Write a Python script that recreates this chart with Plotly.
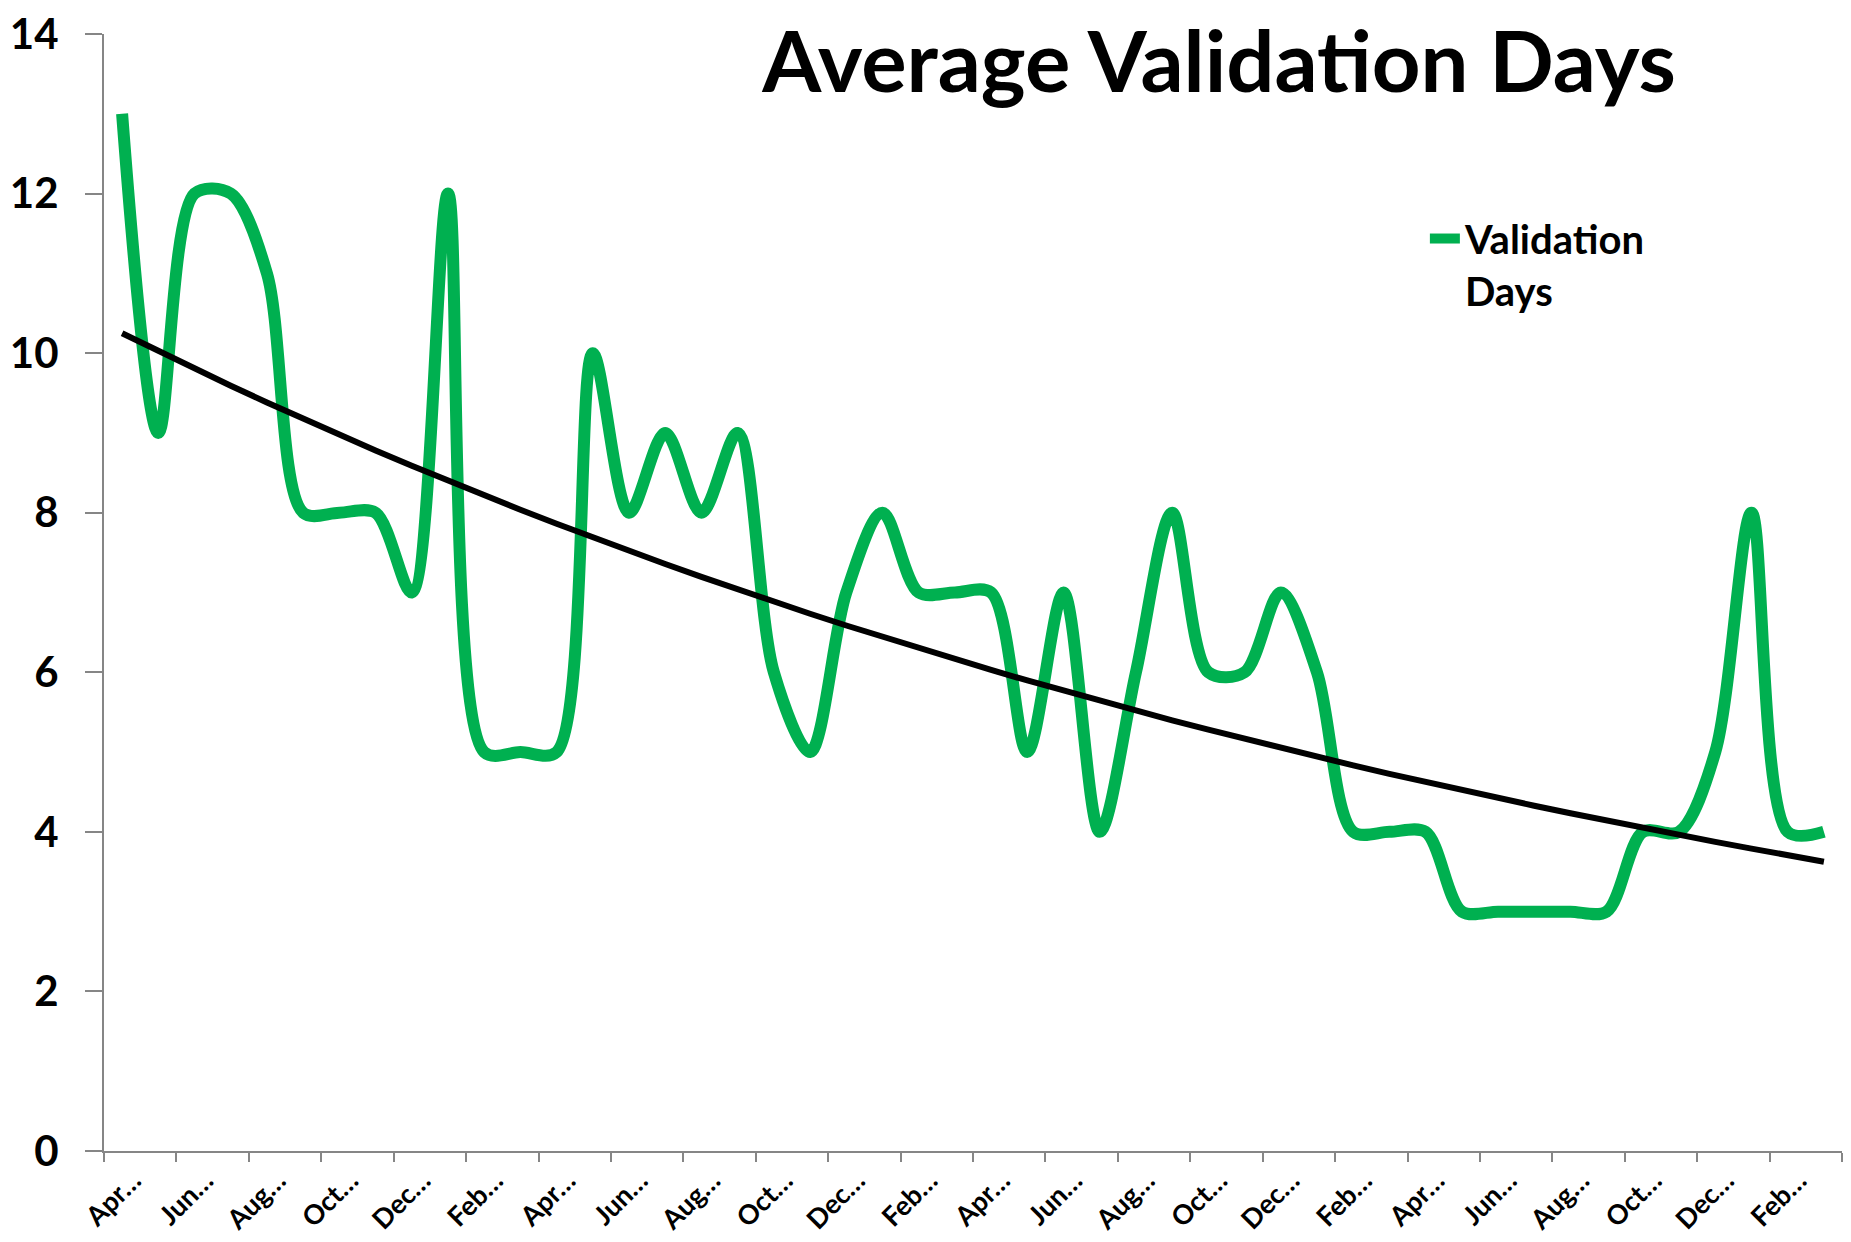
import numpy as np
import plotly.graph_objects as go

# ---- data ----
months = ["Apr", "May", "Jun", "Jul", "Aug", "Sep", "Oct", "Nov", "Dec", "Jan", "Feb", "Mar"]
categories = [m for _ in range(4) for m in months]  # 48 monthly periods
validation_days = [13, 9, 12, 12, 11, 8, 8, 8, 7, 12, 5, 5,
                   5, 10, 8, 9, 8, 9, 6, 5, 7, 8, 7, 7,
                   7, 5, 7, 4, 6, 8, 6, 6, 7, 6, 4, 4,
                   4, 3, 3, 3, 3, 3, 4, 4, 5, 8, 4, 4]
y_ticks = [0, 2, 4, 6, 8, 10, 12, 14]

x_idx = np.arange(len(categories))
tick_idx = list(range(0, len(categories), 2))
tick_text = [categories[i] + "\u2026" for i in tick_idx]

# exponential trendline (least squares on ln y), as Excel does
b, ln_a = np.polyfit(x_idx + 1, np.log(validation_days), 1)
trend = np.exp(ln_a) * np.exp(b * (x_idx + 1))

FONT = "Lato"
GREEN = "#00B050"
AXIS = "#868686"

fig = go.Figure()
fig.add_trace(go.Scatter(
    x=x_idx, y=validation_days, mode="lines", name="Validation<br>Days",
    line=dict(color=GREEN, width=12, shape="spline", smoothing=0.9),
))
fig.add_trace(go.Scatter(
    x=x_idx, y=trend, mode="lines", name="Expon. (Validation Days)",
    line=dict(color="#000000", width=6), showlegend=False,
))

fig.update_layout(
    width=1835, height=1226,
    margin=dict(l=96, r=1, t=26, b=83),
    paper_bgcolor="white", plot_bgcolor="white",
    font=dict(family=FONT, color="black"),
    title=dict(text="<b>Average Validation Days</b>", x=0.660, xanchor="center",
               xref="container", yref="container", y=0.9555, yanchor="middle",
               font=dict(family=FONT, size=85, color="black")),
    showlegend=True,
    legend=dict(x=0.760, y=0.846, xanchor="left", yanchor="top",
                valign="top", bgcolor="rgba(0,0,0,0)",
                font=dict(family=FONT, size=40, color="black", weight="bold")),
    xaxis=dict(
        range=[-0.5, len(categories) - 0.5], automargin=False,
        tickmode="array", tickvals=tick_idx, ticktext=tick_text,
        tickangle=-45, ticks="", ticklen=0,
        tickfont=dict(family=FONT, size=27, color="black", weight="bold"),
        showline=True, linecolor=AXIS, linewidth=2,
        showgrid=False, zeroline=False, ticklabelshift=11,
        ticklabelstandoff=1, ticklabeloverflow="allow",
        minor=dict(tickmode="array",
                   tickvals=[i - 0.5 for i in tick_idx] + [len(categories) - 0.5],
                   ticks="outside", ticklen=9, tickcolor=AXIS, tickwidth=2,
                   showgrid=False),
    ),
    yaxis=dict(
        range=[0, 14], automargin=False, tickmode="array", tickvals=y_ticks,
        ticks="outside", ticklen=17, tickcolor=AXIS, tickwidth=2,
        tickfont=dict(family=FONT, size=42, color="black", weight="bold"),
        showline=True, linecolor=AXIS, linewidth=2,
        showgrid=False, zeroline=False, ticklabelstandoff=18,
        ticklabeloverflow="allow",
    ),
)

fig.write_html("out.html")
